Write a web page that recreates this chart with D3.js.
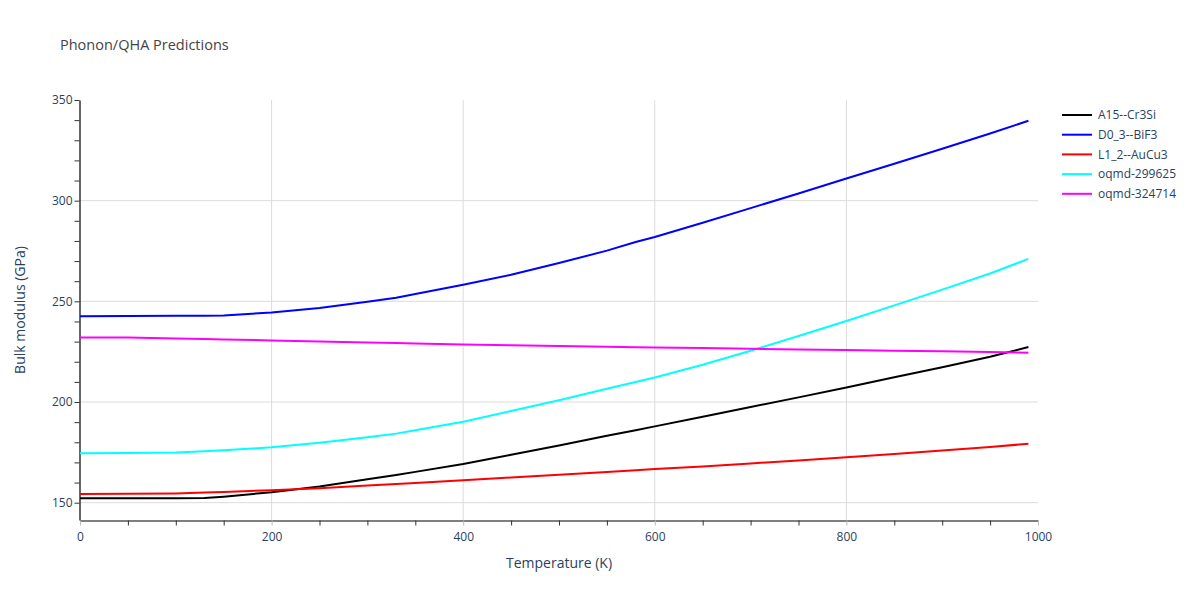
<!DOCTYPE html>
<html>
<head>
<meta charset="utf-8">
<script src="https://cdn.jsdelivr.net/npm/d3@7"></script>
<style>
  body { margin: 0; background: #fff; }
  svg text { font-family: "Open Sans", "DejaVu Sans", sans-serif; }
</style>
</head>
<body>
<div id="chart"></div>
<script>
// temperatures (K) shared by every series
var temps = [0, 50, 100, 130, 150, 200, 250, 300, 330, 350, 400, 450, 500, 550, 580, 600, 650, 700, 750, 800, 850, 900, 950, 990];

var a15 = [152.2, 152.2, 152.2, 152.3, 153.0, 155.2, 158.0, 161.6, 163.8, 165.3, 169.2, 173.8, 178.4, 183.2, 186.0, 187.9, 192.7, 197.5, 202.3, 207.2, 212.3, 217.3, 222.5, 227.3];
var d03 = [242.6, 242.7, 242.8, 242.9, 243.0, 244.5, 246.7, 249.8, 251.8, 253.6, 258.2, 263.2, 269.0, 275.2, 279.5, 282.0, 289.0, 296.3, 303.6, 311.0, 318.3, 325.8, 333.4, 339.7];
var l12 = [154.3, 154.4, 154.6, 155.0, 155.3, 156.2, 157.2, 158.5, 159.3, 159.8, 161.2, 162.5, 163.9, 165.3, 166.1, 166.7, 168.0, 169.5, 171.0, 172.6, 174.2, 175.9, 177.6, 179.3];
var oq1 = [174.6, 174.7, 174.9, 175.5, 176.0, 177.5, 179.8, 182.5, 184.3, 186.0, 190.2, 195.5, 200.9, 206.6, 209.9, 212.2, 218.5, 225.5, 232.8, 240.2, 248.0, 255.8, 263.8, 271.1];
var oq2 = [232.1, 232.0, 231.6, 231.3, 231.1, 230.6, 230.1, 229.6, 229.3, 229.1, 228.6, 228.2, 227.8, 227.4, 227.2, 227.1, 226.8, 226.4, 226.1, 225.8, 225.5, 225.2, 224.8, 224.5];

var names = ["A15--Cr3Si", "D0_3--BiF3", "L1_2--AuCu3", "oqmd-299625", "oqmd-324714"];
var colors = ["#000000", "#0000ff", "#ff0000", "#00ffff", "#ff00ff"];
var seriesVals = [a15, d03, l12, oq1, oq2];

var xTicks = [0, 200, 400, 600, 800, 1000];
var yTicks = [150, 200, 250, 300, 350];

var W = 1200, H = 600;
var pLeft = 80, pRight = 1038, pTop = 100, pBottom = 520;
var textCol = "#2a3f5f";

var svg = d3.select("#chart").append("svg")
  .attr("width", W)
  .attr("height", H);

var x = d3.scaleLinear().domain([0, 1000]).range([pLeft, pRight]);
var y = d3.scaleLinear().domain([141.4, 350]).range([pBottom, pTop]);

// grid lines
svg.append("g").selectAll("line")
  .data(xTicks.filter(function (d) { return d > 0 && d < 1000; }))
  .enter().append("line")
  .attr("x1", function (d) { return x(d); })
  .attr("x2", function (d) { return x(d); })
  .attr("y1", pTop).attr("y2", pBottom)
  .attr("stroke", "#dcdcdc").attr("stroke-width", 1);

svg.append("g").selectAll("line")
  .data(yTicks.filter(function (d) { return d < 350; }))
  .enter().append("line")
  .attr("x1", pLeft).attr("x2", pRight)
  .attr("y1", function (d) { return y(d); })
  .attr("y2", function (d) { return y(d); })
  .attr("stroke", "#dcdcdc").attr("stroke-width", 1);

// x axis
var xAxis = d3.axisBottom(x)
  .tickValues(d3.range(0, 1001, 50))
  .tickSize(5)
  .tickSizeOuter(0)
  .tickFormat(function (d) { return xTicks.indexOf(d) >= 0 ? d : ""; });

var gx = svg.append("g")
  .attr("transform", "translate(0," + (pBottom + 0.5) + ")")
  .call(xAxis);
gx.select(".domain").attr("stroke", "#000").attr("stroke-width", 1.2);
gx.selectAll(".tick line").attr("stroke", function (d) {
  return xTicks.indexOf(d) >= 0 ? "#bbb" : "#333";
});
gx.selectAll(".tick text")
  .attr("fill", textCol).attr("font-size", 12).attr("dy", "1.05em");

// y axis
var yAxis = d3.axisLeft(y)
  .tickValues(d3.range(150, 351, 10))
  .tickSize(5)
  .tickSizeOuter(0)
  .tickFormat(function (d) { return yTicks.indexOf(d) >= 0 ? d : ""; });

var gy = svg.append("g")
  .attr("transform", "translate(" + (pLeft - 0.5) + ",0)")
  .call(yAxis);
gy.select(".domain").attr("stroke", "#000").attr("stroke-width", 1.2);
gy.selectAll(".tick line").attr("stroke", "#333");
gy.selectAll(".tick text")
  .attr("fill", textCol).attr("font-size", 12).attr("x", -7);

// lines
var line = d3.line()
  .x(function (d, i) { return x(temps[i]); })
  .y(function (d) { return y(d); });

svg.append("g").selectAll("path")
  .data(seriesVals)
  .enter().append("path")
  .attr("d", line)
  .attr("fill", "none")
  .attr("stroke", function (d, i) { return colors[i]; })
  .attr("stroke-width", 2);

// titles
svg.append("text")
  .attr("x", 60).attr("y", 50)
  .attr("font-size", 14.5)
  .attr("fill", "#444")
  .text("Phonon/QHA Predictions");

svg.append("text")
  .attr("x", (pLeft + pRight) / 2).attr("y", 568)
  .attr("text-anchor", "middle")
  .attr("font-size", 14)
  .attr("fill", textCol)
  .text("Temperature (K)");

svg.append("text")
  .attr("transform", "translate(25," + ((pTop + pBottom) / 2) + ") rotate(-90)")
  .attr("text-anchor", "middle")
  .attr("font-size", 14)
  .attr("fill", textCol)
  .text("Bulk modulus (GPa)");

// legend
var legend = svg.append("g").selectAll("g")
  .data(names)
  .enter().append("g")
  .attr("transform", function (d, i) { return "translate(1062," + (115 + i * 19.7) + ")"; });

legend.append("line")
  .attr("x1", 0).attr("x2", 30)
  .attr("stroke", function (d, i) { return colors[i]; })
  .attr("stroke-width", 2);

legend.append("text")
  .attr("x", 36).attr("dy", "0.35em")
  .attr("font-size", 12)
  .attr("fill", textCol)
  .text(function (d) { return d; });
</script>
</body>
</html>
